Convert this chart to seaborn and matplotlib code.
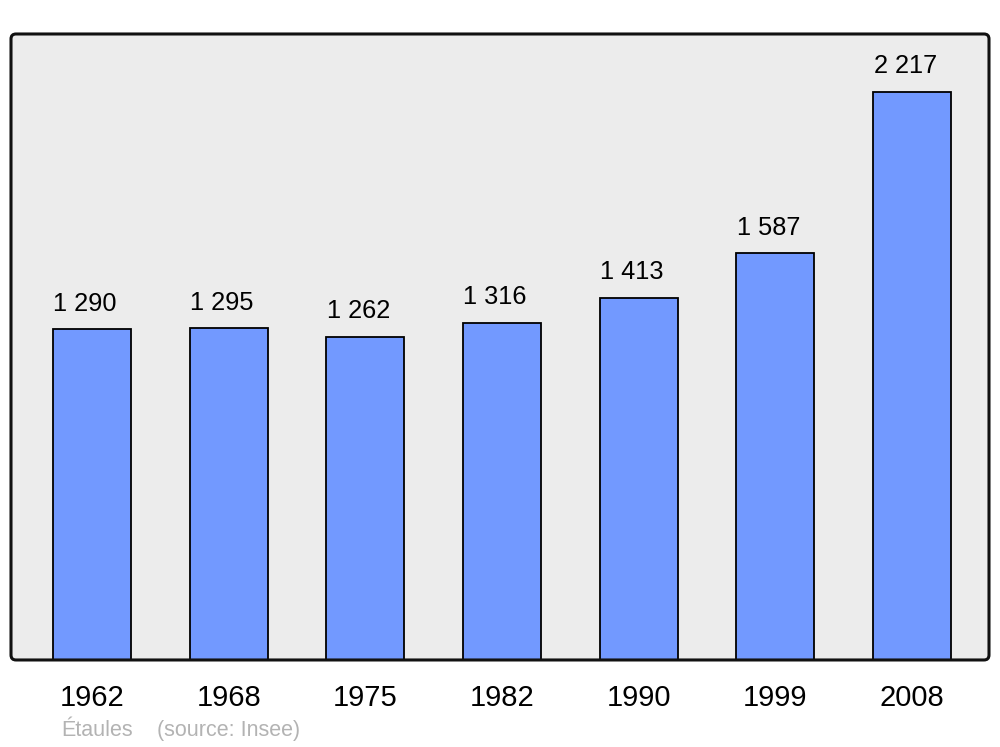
import matplotlib
matplotlib.use("Agg")
import matplotlib.pyplot as plt
from matplotlib.patches import FancyBboxPatch
import seaborn as sns
import pandas as pd

years = ["1962", "1968", "1975", "1982", "1990", "1999", "2008"]
population = [1290, 1295, 1262, 1316, 1413, 1587, 2217]
labels = ["1 290", "1 295", "1 262", "1 316", "1 413", "1 587", "2 217"]
commune = "Étaules"
source = "(source: Insee)"

df = pd.DataFrame({"year": years, "pop": population})

sns.set_theme(style="white")
plt.rcParams["font.family"] = ["Liberation Sans", "DejaVu Sans"]

fig = plt.figure(figsize=(10, 7.47), dpi=100)
ax = fig.add_axes([0.011, 0.1165, 0.978, 0.838])
ax.set_facecolor("#ececec")

sns.barplot(data=df, x="year", y="pop", color="#7299ff", saturation=1,
            width=0.57, edgecolor="black", linewidth=1.3, ax=ax)

ax.set_xlim(-0.593, 6.563)
ax.set_ylim(0, 2443)

for i, (v, lab) in enumerate(zip(population, labels)):
    ax.text(i - 0.05, v + 100, lab, ha="center", va="center", fontsize=18.3, color="black")

ax.set_xlabel("")
ax.set_ylabel("")
ax.set_yticks([])
ax.tick_params(axis="x", length=0, pad=17.5, labelsize=21, labelcolor="black")
for s in ax.spines.values():
    s.set_visible(False)

# rounded frame round the plot area
pos = ax.get_position()
frame = FancyBboxPatch((pos.x0, pos.y0), pos.width, pos.height,
                       boxstyle="round,pad=0,rounding_size=0.005",
                       mutation_aspect=1000 / 747,
                       transform=fig.transFigure, fill=False,
                       edgecolor="#111111", linewidth=2.2, zorder=10)
fig.patches.append(frame)

fig.text(0.061, 0.0215, commune, fontsize=15.5, color="#b3b3b3", ha="left", va="center")
fig.text(0.157, 0.0215, source, fontsize=15.5, color="#b3b3b3", ha="left", va="center")

fig.savefig("out.png", dpi=100, facecolor="white")
